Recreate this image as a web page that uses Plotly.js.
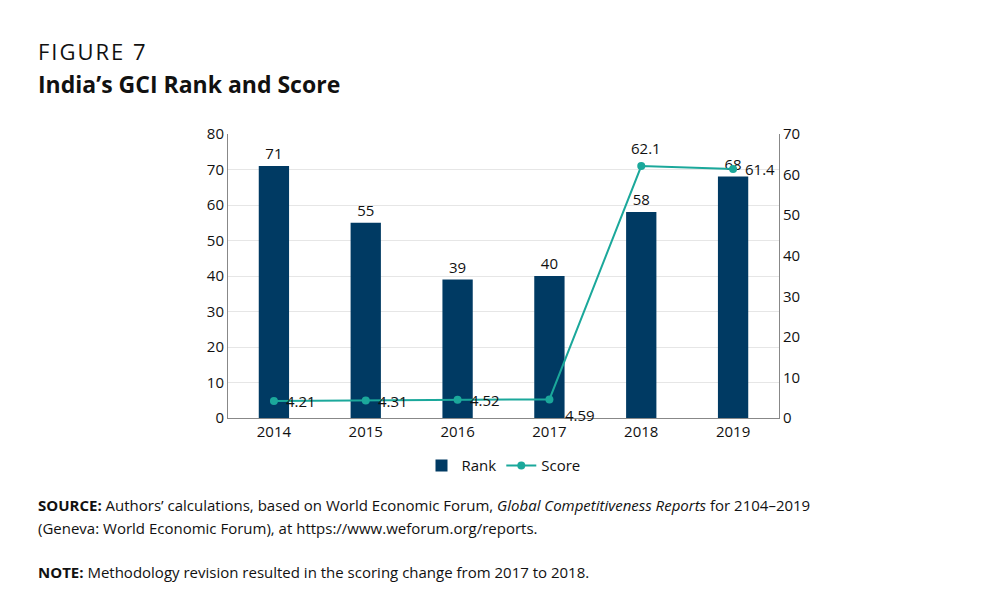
<!DOCTYPE html>
<html>
<head>
<meta charset="utf-8">
<script src="https://cdn.plot.ly/plotly-3.0.1.min.js"></script>
<style>
  body { margin: 0; background: #fff; font-family: "Open Sans", sans-serif; }
  #wrap { position: relative; width: 1000px; height: 595px; }
  #chart { position: absolute; left: 0; top: 0; width: 1000px; height: 595px; }
  .txt { position: absolute; left: 38px; color: #111; }
</style>
</head>
<body>
<div id="wrap">
  <div id="chart"></div>
  <div class="txt" style="top:36px;font-size:22px;letter-spacing:2px;">FIGURE 7</div>
  <div class="txt" style="top:68px;font-size:23px;font-weight:bold;">India’s GCI Rank and Score</div>
  <div class="txt" style="top:494px;font-size:15px;line-height:23px;"><b>SOURCE:</b> Authors’ calculations, based on World Economic Forum, <i>Global Competitiveness Reports</i> for 2104–2019<br>(Geneva: World Economic Forum), at https://www.weforum.org/reports.</div>
  <div class="txt" style="top:562px;font-size:15px;"><b>NOTE:</b> Methodology revision resulted in the scoring change from 2017 to 2018.</div>
</div>
<script>
// chart data
const years = ['2014', '2015', '2016', '2017', '2018', '2019'];
const rank = [71, 55, 39, 40, 58, 68];
const score = [4.21, 4.31, 4.52, 4.59, 62.1, 61.4];
// label offsets (px) for the score labels
const labelDx = [10, 10, 10, 14, -12, 10];
const labelDy = [0, 0, 0, -16, 18, 0];

const navy = '#003a63';
const teal = '#1ba89b';

const rankTrace = {
    x: years,
    y: rank,
    type: 'bar',
    name: 'Rank',
    marker: { color: navy },
    text: rank.map(String),
    textposition: 'outside',
    textfont: { size: 15, color: '#111' },
    cliponaxis: false
};

const scoreTrace = {
    x: years,
    y: score,
    type: 'scatter',
    mode: 'lines+markers',
    name: 'Score',
    yaxis: 'y2',
    line: { color: teal, width: 2 },
    marker: { color: teal, size: 8 },
    cliponaxis: false
};

const scoreLabels = years.map((yr, i) => ({
    x: yr,
    y: score[i],
    xref: 'x',
    yref: 'y2',
    text: String(score[i]),
    showarrow: false,
    xanchor: 'left',
    yanchor: 'middle',
    xshift: labelDx[i],
    yshift: labelDy[i],
    font: { size: 15, color: '#111' }
}));

const layout = {
    width: 1000,
    height: 595,
    paper_bgcolor: 'rgba(0,0,0,0)',
    plot_bgcolor: 'rgba(0,0,0,0)',
    font: { family: 'Open Sans, sans-serif', size: 15, color: '#111' },
    margin: { l: 228, r: 221, t: 134, b: 177 },
    bargap: 0.67,
    showlegend: true,
    legend: {
        orientation: 'h',
        x: 0.5, xanchor: 'center',
        y: -0.11, yanchor: 'top',
        font: { size: 15 }
    },
    annotations: scoreLabels,
    xaxis: {
        showline: true,
        linecolor: '#888',
        ticks: '',
        tickfont: { size: 15 }
    },
    yaxis: {
        range: [0, 80],
        dtick: 10,
        showline: true,
        linecolor: '#888',
        gridcolor: '#e6e6e6',
        zeroline: false,
        tickfont: { size: 15 }
    },
    yaxis2: {
        range: [0, 70],
        dtick: 10,
        overlaying: 'y',
        side: 'right',
        showline: true,
        linecolor: '#888',
        showgrid: false,
        zeroline: false,
        tickfont: { size: 15 }
    }
};

Plotly.newPlot('chart', [rankTrace, scoreTrace], layout, { displayModeBar: false });
</script>
</body>
</html>
